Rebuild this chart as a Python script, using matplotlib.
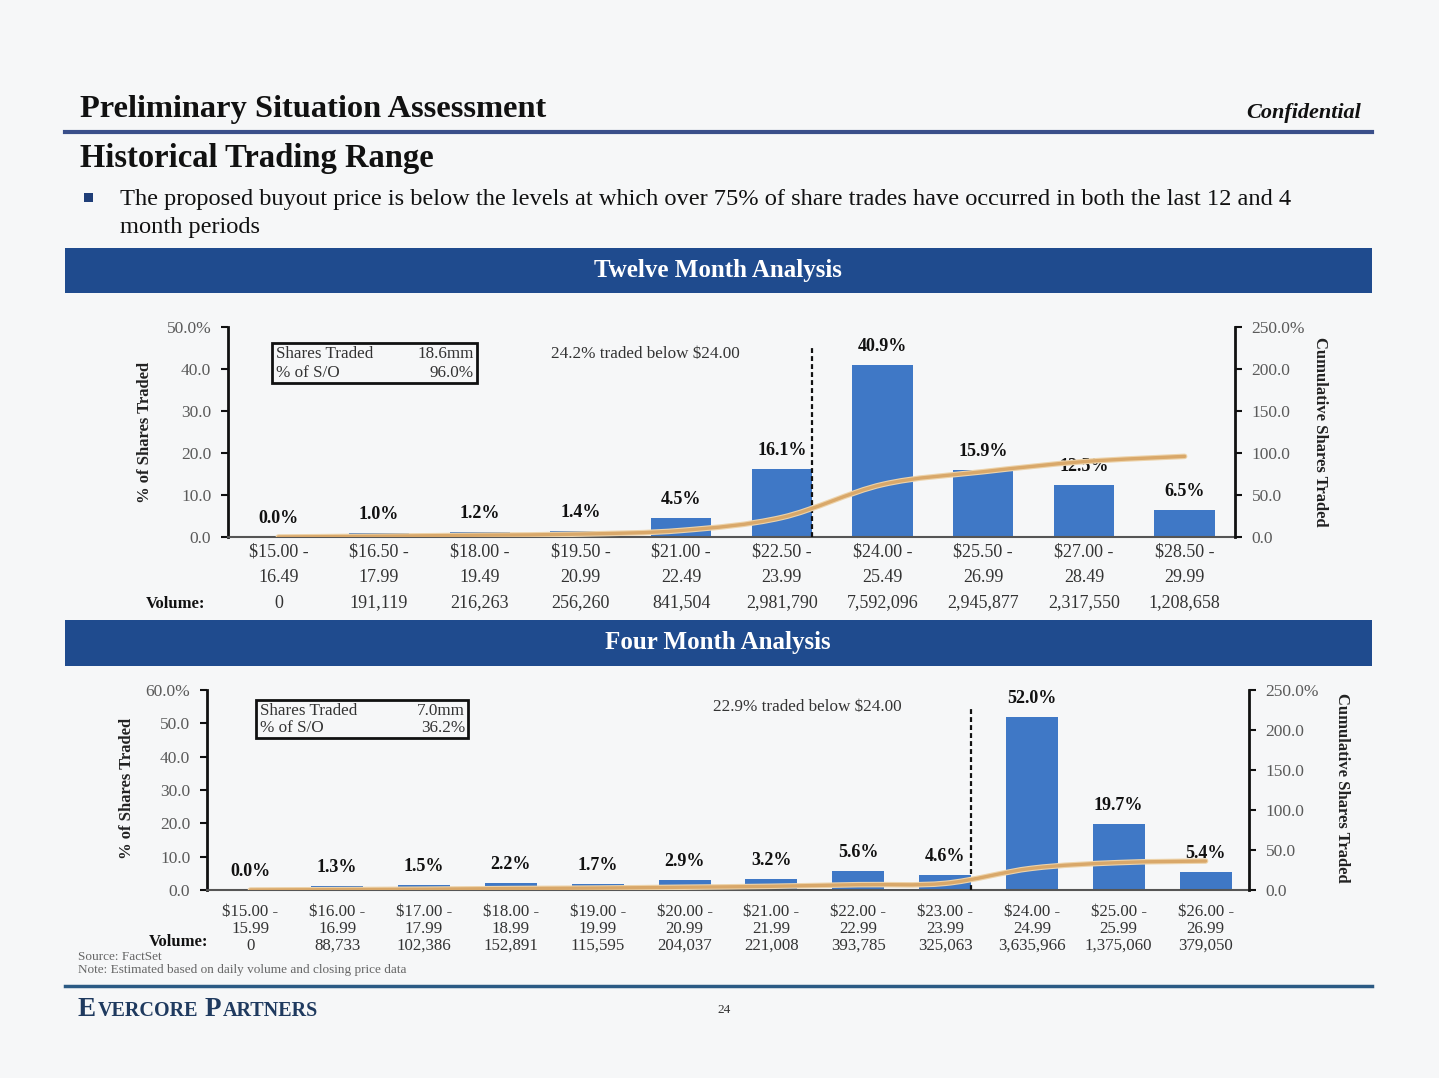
import matplotlib
matplotlib.use("Agg")
import matplotlib.pyplot as plt
from matplotlib.path import Path
from matplotlib.patches import PathPatch, Rectangle
import matplotlib.transforms as mtransforms
import numpy as np

# ---------------- data ----------------
top_ranges = ["$15.00 -\n16.49", "$16.50 -\n17.99", "$18.00 -\n19.49", "$19.50 -\n20.99",
              "$21.00 -\n22.49", "$22.50 -\n23.99", "$24.00 -\n25.49", "$25.50 -\n26.99",
              "$27.00 -\n28.49", "$28.50 -\n29.99"]
top_pct = [0.0, 1.0, 1.2, 1.4, 4.5, 16.1, 40.9, 15.9, 12.5, 6.5]
top_volume = ["0", "191,119", "216,263", "256,260", "841,504", "2,981,790",
              "7,592,096", "2,945,877", "2,317,550", "1,208,658"]
top_shares_traded = "18.6mm"
top_pct_so = 96.0
top_below_pct = 24.2
top_cut_index = 6  # first bucket at/above $24.00

bot_ranges = ["$15.00 -\n15.99", "$16.00 -\n16.99", "$17.00 -\n17.99", "$18.00 -\n18.99",
              "$19.00 -\n19.99", "$20.00 -\n20.99", "$21.00 -\n21.99", "$22.00 -\n22.99",
              "$23.00 -\n23.99", "$24.00 -\n24.99", "$25.00 -\n25.99", "$26.00 -\n26.99"]
bot_pct = [0.0, 1.3, 1.5, 2.2, 1.7, 2.9, 3.2, 5.6, 4.6, 52.0, 19.7, 5.4]
bot_volume = ["0", "88,733", "102,386", "152,891", "115,595", "204,037", "221,008",
              "393,785", "325,063", "3,635,966", "1,375,060", "379,050"]
bot_shares_traded = "7.0mm"
bot_pct_so = 36.2
bot_below_pct = 22.9
bot_cut_index = 9

W, H = 1439, 1078
SERIF = ["Liberation Serif", "DejaVu Serif"]
plt.rcParams["font.family"] = SERIF

BG = "#F6F7F8"
NAVY = "#1F4B8E"
BAR = "#3F78C6"
LINE = "#D9A86A"

fig = plt.figure(figsize=(W / 100, H / 100), dpi=100, facecolor=BG)


def fx(x):
    return x / W


def fy(y):
    return 1 - y / H


def ftext(x, y, s, **kw):
    kw.setdefault("va", "center")
    return fig.text(fx(x), fy(y), s, **kw)


def fline(x0, x1, y, color, lw):
    fig.add_artist(plt.Line2D([fx(x0), fx(x1)], [fy(y), fy(y)], transform=fig.transFigure,
                              color=color, lw=lw))


def frect(x0, y0, x1, y1, **kw):
    fig.add_artist(Rectangle((fx(x0), fy(y1)), fx(x1) - fx(x0), fy(y0) - fy(y1),
                             transform=fig.transFigure, **kw))


# ---------------- header ----------------
ftext(80, 109, "Preliminary Situation Assessment", fontsize=23.3, fontweight="bold", color="#111111")
ftext(1361, 113, "Confidential", fontsize=16, fontweight="bold", style="italic", ha="right", color="#111111")
fline(65, 1372, 132, "#3A4F8A", 3)
ftext(80, 159, "Historical Trading Range", fontsize=23.5, fontweight="bold", color="#111111")
frect(84, 193, 93, 202, facecolor="#1F3E78", edgecolor="none")
ftext(120, 199, "The proposed buyout price is below the levels at which over 75% of share trades have occurred in both the last 12 and 4",
      fontsize=17.6, color="#111111")
ftext(120, 227, "month periods", fontsize=17.6, color="#111111")

# banners
frect(65, 248, 1372, 293, facecolor=NAVY, edgecolor="none")
ftext(718, 270, "Twelve Month Analysis", fontsize=18, fontweight="bold", color="white", ha="center")
frect(65, 620, 1372, 666, facecolor=NAVY, edgecolor="none")
ftext(718, 643, "Four Month Analysis", fontsize=18, fontweight="bold", color="white", ha="center")

# footer
ftext(78, 957, "Source: FactSet", fontsize=9.5, color="#666666")
ftext(78, 970, "Note: Estimated based on daily volume and closing price data", fontsize=9.5, color="#666666")
fline(65, 1372, 986, "#2B5A84", 2.5)
ftext(724, 1010, "24", fontsize=9.5, color="#333333", ha="center")


def small_caps(x, y, parts):
    renderer = fig.canvas.get_renderer()
    cur = x
    for s, size in parts:
        t = ftext(cur, y, s, fontsize=size, color="#1F3A5F", va="baseline", fontweight="bold")
        bb = t.get_window_extent(renderer=renderer)
        cur += bb.width + (1.5 if s.strip() else 0)


small_caps(78, 1016, [("E", 19.5), ("VERCORE", 14.5), (" ", 14.5), ("P", 19.5), ("ARTNERS", 14.5)])


def smooth_path(xs, ys):
    pts = np.column_stack([xs, ys]).astype(float)
    n = len(pts)
    verts = [pts[0]]
    codes = [Path.MOVETO]
    for i in range(n - 1):
        p0 = pts[i - 1] if i > 0 else pts[i]
        p1 = pts[i]
        p2 = pts[i + 1]
        p3 = pts[i + 2] if i + 2 < n else pts[i + 1]
        c1 = p1 + (p2 - p0) / 6.0
        c2 = p2 - (p3 - p1) / 6.0
        verts += [c1, c2, p2]
        codes += [Path.CURVE4] * 3
    return Path(verts, codes)


def draw_chart(box, pct, ranges, volume, ymax, shares, pct_so, cut, below, lab_ys, vol_label_xy,
               tb, txt_xy, ylabel_x, y2label_x, cat_fs, axlabel_y):
    x0, y0, x1, y1 = box
    ax = fig.add_axes([fx(x0), fy(y1), fx(x1) - fx(x0), fy(y0) - fy(y1)])
    ax.set_facecolor("none")
    n = len(pct)
    xs = np.arange(n)
    ax.bar(xs, pct, width=0.6, color=BAR, zorder=2)
    ax.set_xlim(-0.5, n - 0.5)
    ax.set_ylim(0, ymax)
    ticks = np.arange(0, ymax + 1, 10)
    ax.set_yticks(ticks)
    ax.set_yticklabels([f"{t:.1f}%" if t == ymax else f"{t:.1f}" for t in ticks])
    ax.set_xticks([])
    for s in ["top", "right"]:
        ax.spines[s].set_visible(False)
    ax.spines["left"].set_linewidth(2)
    ax.spines["left"].set_color("#111111")
    ax.spines["bottom"].set_linewidth(1.5)
    ax.spines["bottom"].set_color("#555555")
    ax.tick_params(axis="y", direction="out", length=5, width=1.5, labelsize=12.5,
                   labelcolor="#5a5a5a", color="#111111", pad=7)

    ax2 = ax.twinx()
    ax2.set_ylim(0, 250)
    rt = np.arange(0, 251, 50)
    ax2.set_yticks(rt)
    ax2.set_yticklabels([f"{t:.1f}%" if t == 250 else f"{t:.1f}" for t in rt])
    for s in ["top", "left", "bottom"]:
        ax2.spines[s].set_visible(False)
    ax2.spines["right"].set_linewidth(2)
    ax2.spines["right"].set_color("#111111")
    ax2.tick_params(axis="y", direction="out", length=5, width=1.5, labelsize=12.5,
                    labelcolor="#5a5a5a", color="#111111", pad=7)

    cum = np.cumsum(pct) / np.sum(pct) * pct_so
    path = smooth_path(xs, cum)
    ax2.add_patch(PathPatch(path, facecolor="none", edgecolor="#EDD3AA", lw=4, zorder=3,
                            capstyle="round"))
    ax2.add_patch(PathPatch(path, facecolor="none", edgecolor=LINE, lw=2.4, zorder=4,
                            capstyle="round"))

    # bar labels
    for i, v in enumerate(pct):
        ax.annotate(f"{v:.1f}%", (i, v), xytext=(0, 10), textcoords="offset pixels",
                    ha="center", va="bottom", fontsize=13, fontweight="bold", color="#111111",
                    zorder=5)

    # dashed cut line
    ax.plot([cut - 1 + 0.3, cut - 1 + 0.3], [0, ymax * 0.915], color="#111111", lw=1.6,
            linestyle=(0, (2.2, 1.4)), zorder=5, clip_on=False)

    ftext(txt_xy[0], txt_xy[1], f"{below:.1f}% traded below $24.00", fontsize=12.3,
          color="#333333", ha="center")

    # category + volume labels
    tr = mtransforms.blended_transform_factory(ax.transData, fig.transFigure)
    for i, r in enumerate(ranges):
        a, b = r.split("\n")
        ax.text(i, fy(lab_ys[0]), a, transform=tr, ha="center", va="center", fontsize=cat_fs, color="#333333")
        ax.text(i, fy(lab_ys[1]), b, transform=tr, ha="center", va="center", fontsize=cat_fs, color="#333333")
        ax.text(i, fy(lab_ys[2]), volume[i], transform=tr, ha="center", va="center", fontsize=cat_fs, color="#333333")
    ftext(vol_label_xy[0], vol_label_xy[1], "Volume:", fontsize=12, fontweight="bold", color="#111111", ha="right")

    # text box
    bx0, by0, bx1, by1 = tb
    frect(bx0, by0, bx1, by1, facecolor="none", edgecolor="#111111", lw=2)
    ftext(bx0 + 4, by0 + 11, "Shares Traded", fontsize=12.3, color="#333333")
    ftext(bx1 - 3, by0 + 11, shares, fontsize=12.3, color="#333333", ha="right")
    ftext(bx0 + 4, by1 - 10, "% of S/O", fontsize=12.3, color="#333333")
    ftext(bx1 - 3, by1 - 10, f"{pct_so:.1f}%", fontsize=12.3, color="#333333", ha="right")

    ftext(ylabel_x, axlabel_y, "% of Shares Traded", fontsize=12, fontweight="bold", rotation=90,
          ha="center", color="#222222")
    ftext(y2label_x, axlabel_y, "Cumulative Shares Traded", fontsize=12, fontweight="bold", rotation=270,
          ha="center", color="#222222")
    return ax


draw_chart((228, 327, 1235, 537), top_pct, top_ranges, top_volume, 50, top_shares_traded,
           top_pct_so, top_cut_index, top_below_pct, (552, 577, 603), (205, 604), (272, 343, 477, 383),
           (645, 354), 145, 1320, 13, 432)

draw_chart((207, 690, 1249, 890), bot_pct, bot_ranges, bot_volume, 60, bot_shares_traded,
           bot_pct_so, bot_cut_index, bot_below_pct, (912, 929, 946), (208, 942), (256, 700, 468, 738),
           (807, 707), 127, 1342, 12.2, 788)

fig.savefig("out.png", dpi=100, facecolor=BG)
